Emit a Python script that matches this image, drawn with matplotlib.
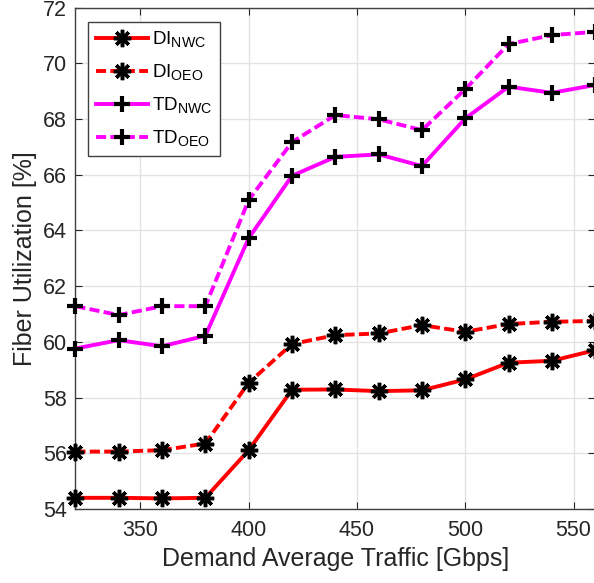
import matplotlib
matplotlib.use("Agg")
import matplotlib.pyplot as plt
try:
    import matplotlib._mathtext as _mt
    _mt.SHRINK_FACTOR = 0.75
except Exception:
    pass

plt.rcParams['font.family'] = ['Liberation Sans', 'DejaVu Sans']
plt.rcParams['mathtext.fontset'] = 'custom'
plt.rcParams['mathtext.rm'] = 'Liberation Sans'
plt.rcParams['mathtext.it'] = 'Liberation Sans'

traffic = [320, 340, 360, 380, 400, 420, 440, 460, 480, 500, 520, 540, 560]
di_nwc = [54.40, 54.40, 54.38, 54.40, 56.11, 58.28, 58.29, 58.23, 58.26, 58.65, 59.25, 59.32, 59.70]
di_oeo = [56.06, 56.06, 56.11, 56.35, 58.53, 59.92, 60.24, 60.30, 60.60, 60.36, 60.64, 60.72, 60.75]
td_nwc = [59.76, 60.06, 59.84, 60.22, 63.72, 65.96, 66.64, 66.73, 66.31, 68.02, 69.16, 68.94, 69.22]
td_oeo = [61.28, 60.96, 61.28, 61.28, 65.09, 67.17, 68.14, 67.99, 67.60, 69.07, 70.69, 71.01, 71.13]
labels = [r'DI$_{\mathrm{NWC}}$', r'DI$_{\mathrm{OEO}}$', r'TD$_{\mathrm{NWC}}$', r'TD$_{\mathrm{OEO}}$']
xticks = [350, 400, 450, 500, 550]
yticks = [54, 56, 58, 60, 62, 64, 66, 68, 70, 72]

fig = plt.figure(figsize=(5.94, 5.83), dpi=100)
ax = fig.add_axes([0.127, 0.127, 0.875, 0.86])

dashed = (0, (2.6, 1.1))
ast = (8, 2, 0)
lw = 2.8
ax.plot(traffic, di_nwc, color='#ff0000', lw=lw, ls='-', marker=ast, ms=12.5,
        mec='black', mfc='black', mew=2.5, label=labels[0], clip_on=False, zorder=3)
ax.plot(traffic, di_oeo, color='#ff0000', lw=lw, ls=dashed, marker=ast, ms=12.5,
        mec='black', mfc='black', mew=2.5, label=labels[1], clip_on=False, zorder=3)
ax.plot(traffic, td_nwc, color='#ff00ff', lw=lw, ls='-', marker='+', ms=12,
        mec='black', mew=3, label=labels[2], clip_on=False, zorder=3)
ax.plot(traffic, td_oeo, color='#ff00ff', lw=lw, ls=dashed, marker='+', ms=12,
        mec='black', mew=3, label=labels[3], clip_on=False, zorder=3)

ax.set_xlim(320, 560)
ax.set_ylim(54, 72)
ax.set_xticks(xticks)
ax.set_yticks(yticks)
ax.grid(True, color='#e3e3e3', lw=1.0)
ax.set_axisbelow(True)
ax.tick_params(direction='in', length=5, labelsize=15.5, colors='#262626', top=True, right=True)
ax.tick_params(axis='x', pad=8)
ax.tick_params(axis='y', pad=6)
for s in ax.spines.values():
    s.set_color('#404040')
    s.set_linewidth(1.0)

ax.set_xlabel('Demand Average Traffic [Gbps]', fontsize=18, color='#262626', labelpad=4)
ax.set_ylabel('Fiber Utilization [%]', fontsize=18, color='#262626', labelpad=4)

leg = ax.legend(loc='upper left', bbox_to_anchor=(0.025, 0.972), borderaxespad=0,
                fontsize=13.5, fancybox=False, edgecolor='#404040', framealpha=1,
                handlelength=2.8, handletextpad=0.2, labelspacing=0.7,
                borderpad=0.4)
leg.get_frame().set_linewidth(1.0)

fig.savefig('out.png', dpi=100)
